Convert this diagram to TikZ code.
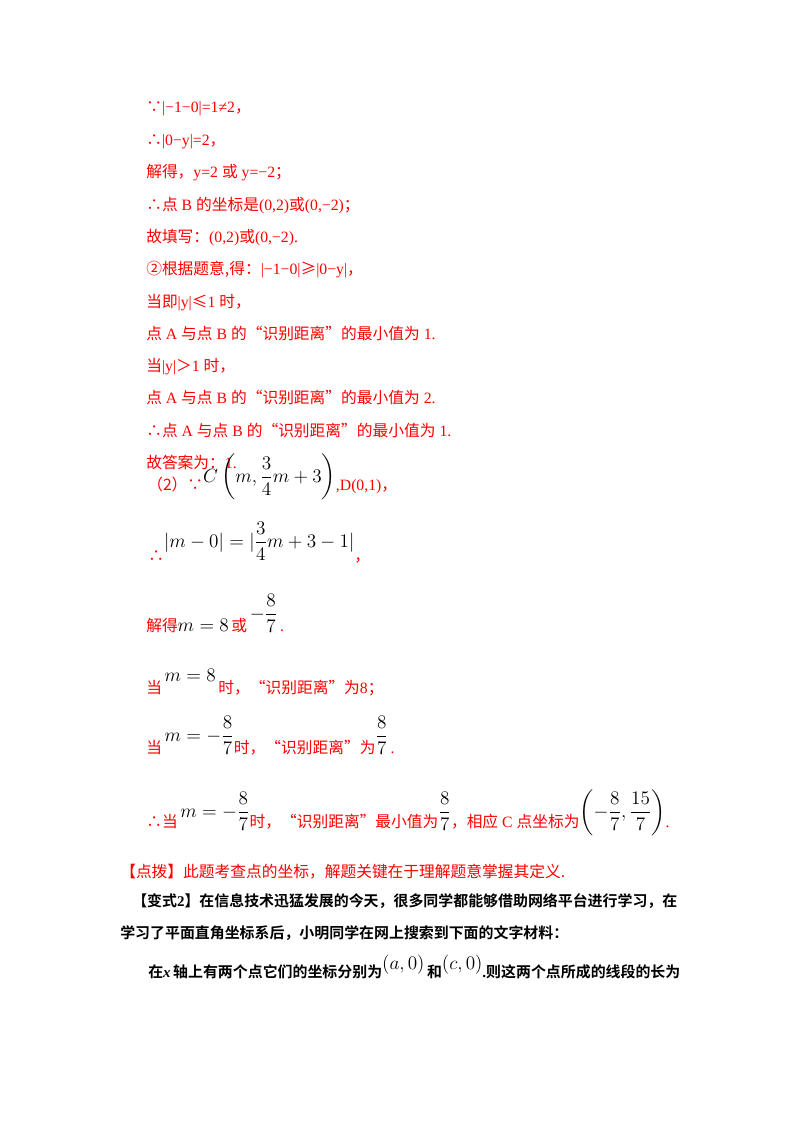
\documentclass[tikz,border=0pt]{standalone}
\usepackage{amsmath}
\usepackage{fontspec}
\setmainfont{Liberation Serif}
\newfontfamily\zh{Noto Sans CJK SC}[BoldFont={Noto Sans CJK SC Bold}]
\definecolor{rd}{RGB}{255,0,0}
\newcommand{\mth}[2]{\raisebox{#1}{\color{black}\fontsize{13.5}{15}\selectfont$\displaystyle #2$}}
\begin{document}
\begin{tikzpicture}[x=0.75pt,y=-0.75pt,
  t/.style={anchor=base west,inner sep=0pt,text=rd,font=\fontsize{11.8}{13}\selectfont},
  b/.style={anchor=base west,inner sep=0pt,text=black,font=\fontsize{11.2}{13}\selectfont\bfseries}]
\useasboundingbox[fill=white] (0,0) rectangle (800,1132);
\node[t] (l1) at (146,112) {{\zh∵}|−1−0|=1≠2{\zh，}};
\node[t] (l2) at (146,145) {{\zh∴}|0−y|=2{\zh，}};
\node[t] (l3) at (146,177) {{\zh 解得，}y=2 {\zh 或} y=−2{\zh；}};
\node[t] (l4) at (146,210) {{\zh ∴点} B {\zh 的坐标是}(0,2){\zh 或}(0,−2){\zh；}};
\node[t] (l5) at (146,242) {{\zh 故填写：}(0,2){\zh 或}(0,−2).};
\node[t] (l6) at (146,274) {{\zh ②根据题意,得：}|−1−0|{\zh ≥}|0−y|{\zh，}};
\node[t] (l7) at (146,307) {{\zh 当即}|y|{\zh ≤}1 {\zh 时，}};
\node[t] (l8) at (146,339) {{\zh 点} A {\zh 与点} B {\zh 的“识别距离”的最小值为} 1.};
\node[t] (l9) at (146,371) {{\zh 当}|y|{\zh ＞}1 {\zh 时，}};
\node[t] (l10) at (146,403) {{\zh 点} A {\zh 与点} B {\zh 的“识别距离”的最小值为} 2.};
\node[t] (l11) at (146,436) {{\zh ∴点} A {\zh 与点} B {\zh 的“识别距离”的最小值为} 1.};
\node[t] (l12) at (146,468) {{\zh 故答案为：}1.};
\node[t] (p) at (147,490) {{\zh（2）∵}\mth{6pt}{C\left(m,\frac{3}{4}m+3\right)},D(0,1){\zh，}};
\node[t] (q) at (148,561) {{\zh ∴}\mth{10pt}{|m-0|=|\frac{3}{4}m+3-1|}{\zh ，}};
\node[t] (r) at (146,631) {{\zh 解得}\mth{0pt}{m=8}\,{\zh 或}\,\mth{9pt}{-\frac{8}{7}}\,.};
\node[t] (s) at (146,693) {{\zh 当}\,\mth{9pt}{m=8}\,{\zh 时，“识别距离”为}8{\zh；}};
\node[t] (u) at (146,753) {{\zh 当}\,\mth{9pt}{m=-\frac{8}{7}}{\zh 时，“识别距离”为}\mth{9pt}{\frac{8}{7}}\,.};
\node[t] (v) at (146,827) {{\zh ∴当}\,\mth{7pt}{m=-\frac{8}{7}}{\zh 时，“识别距离”最小值为}\mth{7pt}{\frac{8}{7}}{\zh ，相应} C {\zh 点坐标为}\mth{7pt}{\left(-\frac{8}{7},\frac{15}{7}\right)}.};
\node[t] (w) at (120,877) {\zh【点拨】此题考查点的坐标，解题关键在于理解题意掌握其定义.};
\node[b] (x1) at (132,906) {{\zh 【变式}2{\zh 】在信息技术迅猛发展的今天，很多同学都能够借助网络平台进行学习，在}};
\node[b] (x2) at (120,938) {\zh 学习了平面直角坐标系后，小明同学在网上搜索到下面的文字材料：};
\node[b] (x3) at (148,977) {{\zh 在}\textit{x}\,{\zh 轴上有两个点它们的坐标分别为}\mth{6pt}{\left(a,0\right)}\,{\zh 和}\mth{6pt}{\left(c,0\right)}{.\zh 则这两个点所成的线段的长为}};
\end{tikzpicture}
\end{document}
